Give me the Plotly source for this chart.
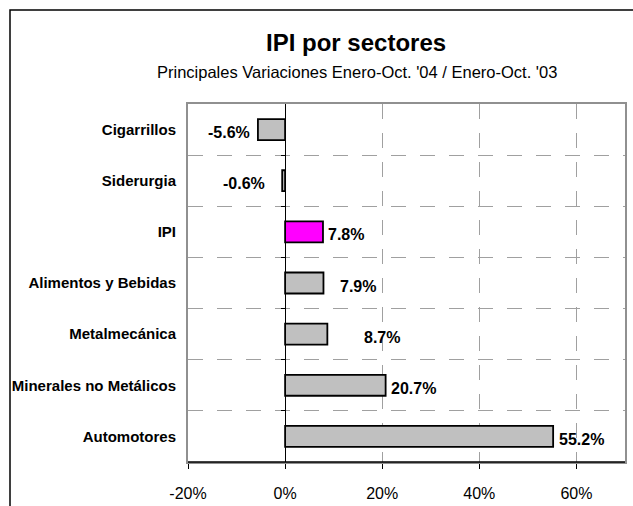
import plotly.graph_objects as go

categories = ["Cigarrillos", "Siderurgia", "IPI", "Alimentos y Bebidas",
              "Metalmecánica", "Minerales no Metálicos", "Automotores"]
values = [-5.6, -0.6, 7.8, 7.9, 8.7, 20.7, 55.2]
x_ticks = [-20, 0, 20, 40, 60]
x_tick_labels = ["-20%", "0%", "20%", "40%", "60%"]

title_text = "IPI por sectores"
subtitle_text = "Principales Variaciones Enero-Oct. '04 / Enero-Oct. '03"

# styling (not data)
bar_colors = ["#C0C0C0", "#C0C0C0", "#FF00FF", "#C0C0C0", "#C0C0C0", "#C0C0C0", "#C0C0C0"]
label_gap = [7, 16, 4, 16, 36, 4, 5]
FONT = "Liberation Sans, Arial, sans-serif"
GRID = "#A0A0A0"
DASH = "15px,14px"

pos = list(range(len(categories)))
x_min, x_max = -20, 70

fig = go.Figure()
fig.add_trace(go.Bar(
    x=values, y=pos, orientation="h", width=0.41,
    marker=dict(color=bar_colors, line=dict(color="black", width=1.8)),
    hoverinfo="skip",
))
# invisible trace so the tick axis at the zero line is drawn
fig.add_trace(go.Scatter(x=[0], y=[pos[0]], yaxis="y2", mode="markers",
                         marker=dict(opacity=0), hoverinfo="skip"))

for i, v in enumerate(values):
    fig.add_annotation(
        x=v, y=pos[i], xref="x", yref="y",
        text="<b>%.1f%%</b>" % v, showarrow=False,
        xanchor="left" if v >= 0 else "right",
        xshift=label_gap[i] if v >= 0 else -label_gap[i],
        yshift=-3, borderpad=0,
        font=dict(family=FONT, size=16, color="black"),
    )

L, R, T, B = 188, 8, 104, 44
W, H = 633, 506
pw, ph = W - L - R, H - T - B

def px(xp):
    return (xp - L) / pw

def py(yp):
    return (H - B - yp) / ph

fig.add_annotation(x=px(356), y=py(42), xref="paper", yref="paper",
                   text="<b>%s</b>" % title_text, showarrow=False,
                   xanchor="center", yanchor="middle",
                   font=dict(family=FONT, size=24, color="black"))
fig.add_annotation(x=px(357), y=py(72), xref="paper", yref="paper",
                   text=subtitle_text, showarrow=False,
                   xanchor="center", yanchor="middle",
                   font=dict(family=FONT, size=16.5, color="black"))

# outer chart border (cropped at right/bottom)
fig.add_shape(type="rect", xref="paper", yref="paper",
              x0=px(10), x1=px(660), y0=py(540), y1=py(10),
              line=dict(color="black", width=1.5), fillcolor="rgba(0,0,0,0)")
# black value-axis line at bottom
fig.add_shape(type="line", xref="paper", yref="paper",
              x0=0, x1=1, y0=0, y1=0, layer="above",
              line=dict(color="black", width=1.5))

yrange = [len(categories) - 0.5, -0.5]
boundaries = [p + 0.5 for p in pos[:-1]]

fig.update_layout(
    width=W, height=H,
    margin=dict(l=L, r=R, t=T, b=B, autoexpand=False),
    paper_bgcolor="white", plot_bgcolor="white",
    showlegend=False,
    font=dict(family=FONT, color="black"),
    xaxis=dict(
        range=[x_min, x_max], tickvals=x_ticks, ticktext=x_tick_labels,
        showgrid=True, gridcolor=GRID, griddash=DASH, gridwidth=1,
        zeroline=True, zerolinecolor="black", zerolinewidth=1.2,
        showline=True, mirror=True, linecolor="#909090", linewidth=2,
        ticks="outside", ticklen=5, tickcolor="black",
        tickfont=dict(family=FONT, size=16, color="black"),
        ticklabelstandoff=11, automargin=False, fixedrange=True,
    ),
    yaxis=dict(
        range=yrange,
        tickvals=pos, ticktext=["<b>%s</b>" % c for c in categories],
        showgrid=False, zeroline=False,
        showline=True, mirror=True, linecolor="#909090", linewidth=2,
        ticks="", tickfont=dict(family=FONT, size=15, color="black"),
        ticklabelstandoff=7, automargin=False,
        minor=dict(tickvals=boundaries, showgrid=True, gridcolor=GRID,
                   griddash=DASH, gridwidth=1, ticks=""),
        fixedrange=True,
    ),
    yaxis2=dict(
        range=yrange, overlaying="y", anchor="free",
        position=(0 - x_min) / (x_max - x_min), side="left",
        tickvals=boundaries, ticks="outside", ticklen=4, tickwidth=1.2,
        tickcolor="black", showticklabels=False, automargin=False,
        showgrid=False, zeroline=False, showline=False, fixedrange=True,
    ),
)

fig.write_html("out.html", config={"displayModeBar": False},
               post_script="document.body.style.margin='0';document.body.style.overflow='hidden';")
